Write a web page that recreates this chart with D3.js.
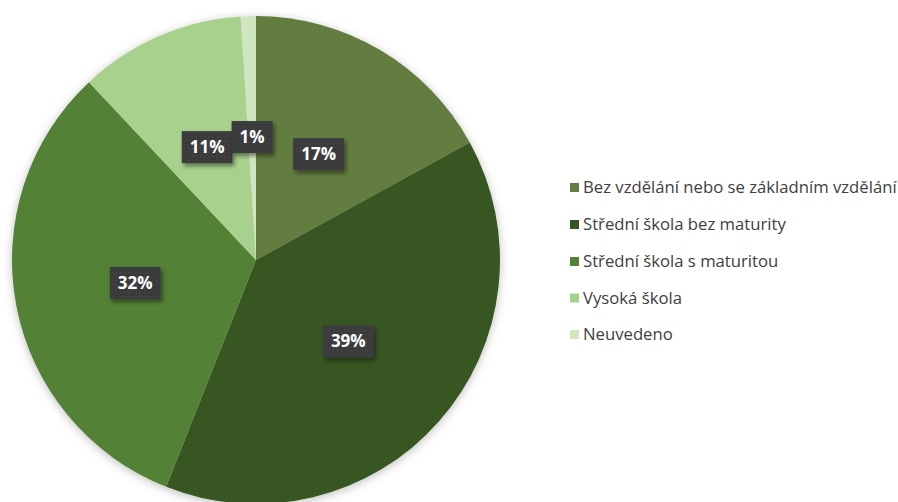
<!DOCTYPE html>
<html><head><meta charset="utf-8">
<script src="https://cdn.jsdelivr.net/npm/d3@7"></script>
<style>html,body{margin:0;padding:0;background:#fff;}svg{display:block;}</style>
</head><body>
<script>
const categories = ["Bez vzdělání nebo se základním vzdělání","Střední škola bez maturity","Střední škola s maturitou","Vysoká škola","Neuvedeno"];
const values = [17, 39, 32, 11, 1];
const labels = ["17%","39%","32%","11%","1%"];
const colors = ["#637c40","#375623","#538135","#a9d18e","#cfe6c0"];

const W = 898, H = 502;
const cx = 256, cy = 260, R = 244;
const svg = d3.select("body").append("svg").attr("width", W).attr("height", H);
const defs = svg.append("defs");
const f = defs.append("filter").attr("id","sh").attr("x","-20%").attr("y","-20%").attr("width","140%").attr("height","140%");
f.append("feDropShadow").attr("dx",0).attr("dy",2).attr("stdDeviation",5).attr("flood-color","#000").attr("flood-opacity",0.25);
const f2 = defs.append("filter").attr("id","bsh").attr("x","-30%").attr("y","-30%").attr("width","160%").attr("height","160%");
f2.append("feDropShadow").attr("dx",2).attr("dy",3).attr("stdDeviation",2).attr("flood-color","#000").attr("flood-opacity",0.45);
const pat = defs.append("pattern").attr("id","dots").attr("width",4).attr("height",4).attr("patternUnits","userSpaceOnUse");
pat.append("rect").attr("width",4).attr("height",4).attr("fill","#3a3a3c");
pat.append("rect").attr("x",1).attr("y",1).attr("width",1).attr("height",1).attr("fill","#4e4e50");

const pie = d3.pie().sort(null).value(d => d)(values);
const arc = d3.arc().innerRadius(0).outerRadius(R);
const g = svg.append("g").attr("transform", `translate(${cx},${cy})`);
g.append("g").attr("filter","url(#sh)").selectAll("path").data(pie).join("path")
  .attr("d", arc).attr("fill", (d,i) => colors[i]);

const lblArc = d3.arc().innerRadius(123).outerRadius(123);
const lg = g.append("g");
pie.forEach((d,i) => {
  const [x,y] = lblArc.centroid(d);
  const grp = lg.append("g").attr("transform", `translate(${x},${y})`);
  const t = grp.append("text").text(labels[i]).attr("text-anchor","middle").attr("dy","0.36em")
    .attr("font-family","'Open Sans', sans-serif").attr("font-weight","bold").attr("font-size",17).attr("fill","#fff");
  const w = t.node().getComputedTextLength() + 16;
  grp.insert("rect","text").attr("x",-w/2).attr("y",-16).attr("width",w).attr("height",32)
    .attr("fill","url(#dots)").attr("filter","url(#bsh)");
});

const legY = [187.5, 224.5, 261.5, 298, 334.5];
const leg = svg.append("g");
categories.forEach((c,i) => {
  leg.append("rect").attr("x",570).attr("y",legY[i]-4.5).attr("width",9).attr("height",9).attr("fill",colors[i]);
  const t = leg.append("text").text(c).attr("x",583).attr("y",legY[i]).attr("dy","0.35em")
    .attr("font-family","'Open Sans', sans-serif").attr("font-size",14).attr("fill","#404040");
  if (i === 0) {
    const len = t.node().getComputedTextLength();
    const fs = 14 * 314 / len;
    leg.attr("data-fs", fs);
  }
});
const fs = +leg.attr("data-fs");
leg.selectAll("text").attr("font-size", fs);
</script>
</body></html>
